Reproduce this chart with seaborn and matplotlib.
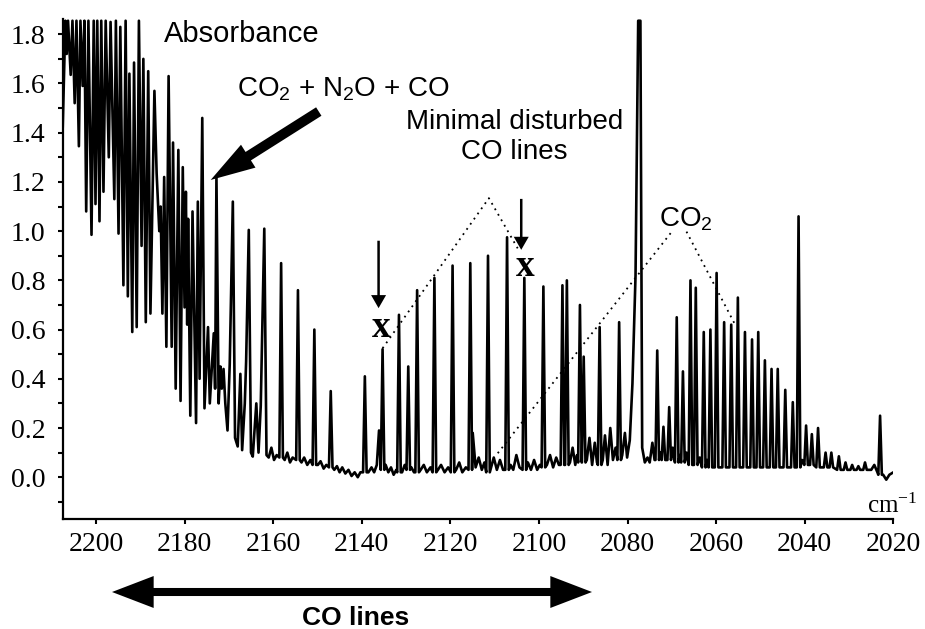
import pandas as pd
import seaborn as sns
import matplotlib.pyplot as plt
from matplotlib.ticker import MultipleLocator

band_cm = [2207.5, 2206.9, 2206.6, 2206.3, 2205.7, 2205.3, 2204.8, 2204.4, 2203.85, 2203.5,
           2203.0, 2202.6, 2202.2, 2201.7, 2201.0, 2200.5, 2200.1, 2199.7, 2199.2, 2198.8,
           2198.3, 2197.8, 2197.1, 2196.7, 2195.85, 2195.5, 2194.9, 2194.5, 2193.8, 2193.3,
           2192.8, 2192.45, 2191.8, 2191.4, 2190.8, 2190.3, 2189.7, 2189.3, 2188.75, 2188.2,
           2187.7, 2186.8, 2186.3, 2185.7, 2185.4, 2185.0, 2184.6, 2184.1, 2183.6, 2182.9,
           2182.6, 2182.0, 2181.4, 2180.9, 2180.4, 2180.0, 2179.7, 2179.4, 2179.2, 2178.7,
           2178.2, 2177.4, 2177.0, 2176.6, 2176.0, 2175.5, 2174.7, 2174.3, 2173.4, 2173.1,
           2172.8, 2172.3, 2171.9, 2171.6, 2171.2, 2170.8, 2170.3, 2169.8, 2169.1, 2168.6,
           2168.0, 2167.4, 2167.0, 2166.4, 2166.1, 2165.5, 2165.0, 2164.6, 2163.8, 2163.3,
           2162.8, 2162.0, 2161.5]
band_abs = [1.42, 1.855, 1.72, 1.855, 1.635, 1.855, 1.52, 1.855, 1.345, 1.855,
            1.59, 1.855, 1.08, 1.855, 0.985, 1.855, 1.11, 1.855, 1.04, 1.855,
            1.16, 1.855, 1.30, 1.85, 1.13, 1.855, 0.99, 1.83, 0.78, 1.855,
            0.735, 1.64, 0.59, 1.685, 0.61, 1.855, 0.94, 1.70, 0.63, 1.65,
            0.665, 1.57, 1.235, 1.00, 1.10, 0.665, 1.22, 0.53, 1.63, 0.53,
            1.36, 0.36, 1.33, 0.31, 1.26, 0.69, 1.16, 0.62, 1.05, 0.25,
            1.08, 0.22, 1.12, 0.40, 1.46, 0.28, 0.61, 0.30, 0.585, 0.36,
            1.22, 0.30, 0.45, 0.36, 0.44, 0.30, 0.19, 0.46, 1.12, 0.16,
            0.125, 0.42, 0.11, 0.30, 0.47, 1.005, 0.10, 0.084, 0.30, 0.10,
            0.29, 1.01, 0.09]

# baseline wiggles between the isolated lines
base_cm = [2161.0, 2160.4, 2159.8, 2159.2, 2157.4, 2156.8, 2156.2, 2155.6, 2153.6, 2153.0,
           2152.3, 2151.6, 2149.9, 2149.3, 2148.6, 2148.0, 2146.2, 2145.6, 2145.0, 2144.4,
           2143.7, 2143.0, 2142.3, 2141.6, 2140.9, 2140.3, 2138.5, 2137.8, 2137.2, 2136.6,
           2136.1, 2134.6, 2134.0, 2133.4, 2132.8, 2132.2, 2130.9, 2130.3, 2128.8, 2128.2,
           2126.7, 2126.0, 2125.3, 2124.5, 2122.8, 2122.1, 2121.3, 2120.5, 2118.7, 2118.0,
           2117.3, 2116.5, 2114.95, 2114.3, 2113.6, 2112.9, 2112.3, 2110.8, 2110.2, 2109.5,
           2108.8, 2108.1, 2106.4, 2105.8, 2105.1, 2104.4, 2102.5, 2101.8, 2101.1, 2100.4,
           2099.8, 2098.2, 2097.5, 2096.8, 2096.1, 2095.5, 2093.0, 2092.4, 2091.8, 2091.4,
           2089.2, 2088.6, 2088.0, 2087.4, 2086.9, 2085.6, 2085.1, 2084.5, 2083.9, 2083.3,
           2082.7, 2081.2, 2080.6, 2080.1, 2079.5, 2078.9, 2078.2, 2077.6, 2077.1, 2076.7,
           2076.1, 2075.5, 2075.0, 2074.4, 2073.9, 2072.6, 2069.8, 2068.2, 2066.7, 2063.7,
           2062.05, 2040.6, 2025.0, 2024.3, 2023.6, 2022.3, 2021.6, 2020.9, 2020.0]
base_abs = [0.08, 0.12, 0.07, 0.09, 0.07, 0.10, 0.06, 0.08, 0.06, 0.08,
            0.05, 0.07, 0.05, 0.065, 0.035, 0.05, 0.03, 0.045, 0.02, 0.04,
            0.015, 0.03, 0.005, 0.02, 0.0, 0.02, 0.02, 0.04, 0.02, 0.05,
            0.19, 0.05, 0.02, 0.04, 0.01, 0.03, 0.02, 0.05, 0.04, 0.02,
            0.03, 0.05, 0.02, 0.04, 0.03, 0.05, 0.02, 0.04, 0.03, 0.06,
            0.02, 0.04, 0.18, 0.04, 0.08, 0.03, 0.06, 0.04, 0.08, 0.03,
            0.07, 0.03, 0.05, 0.03, 0.09, 0.04, 0.06, 0.03, 0.07, 0.03,
            0.05, 0.05, 0.09, 0.04, 0.08, 0.05, 0.06, 0.12, 0.05, 0.09,
            0.07, 0.16, 0.05, 0.14, 0.06, 0.07, 0.17, 0.05, 0.20, 0.07,
            0.12, 0.09, 0.18, 0.08, 0.15, 0.38, 0.82, 1.855, 1.855, 0.12,
            0.06, 0.08, 0.06, 0.14, 0.07, 0.10, 0.12, 0.09, 0.10, 0.08,
            0.07, 0.07, 0.03, 0.05, 0.02, 0.01, -0.01, 0.01, 0.02]

# isolated narrow lines: centre, top, baseline under the line
line_cm = [2158.2, 2154.4, 2150.7, 2147.0, 2139.3, 2135.3, 2131.6, 2129.5, 2127.5, 2123.6,
           2119.5, 2115.5, 2111.5, 2107.2, 2103.3, 2099.0, 2094.7, 2093.7, 2090.75, 2089.9,
           2086.3, 2081.9, 2073.3, 2071.9, 2070.6, 2068.9, 2067.5, 2065.8, 2064.6, 2062.8,
           2061.3, 2059.9, 2058.2, 2056.6, 2055.1, 2053.5, 2051.9, 2050.5, 2049.0, 2047.5,
           2046.1, 2044.4, 2042.7, 2041.4, 2039.7, 2038.4, 2037.0, 2035.3, 2034.0, 2032.3,
           2030.8, 2029.3, 2027.9, 2026.4, 2023.0]
line_abs = [0.87, 0.76, 0.60, 0.35, 0.41, 0.52, 0.66, 0.45, 0.76, 0.81,
            0.86, 0.87, 0.90, 0.975, 0.81, 0.775, 0.78, 0.80, 0.70, 0.49,
            0.61, 0.63, 0.515, 0.205, 0.285, 0.65, 0.43, 0.80, 0.77, 0.59,
            0.60, 0.83, 0.63, 0.62, 0.73, 0.59, 0.56, 0.59, 0.475, 0.44,
            0.44, 0.355, 0.305, 1.06, 0.21, 0.175, 0.20, 0.10, 0.10, 0.085,
            0.06, 0.05, 0.045, 0.06, 0.25]
line_base = [0.08, 0.07, 0.05, 0.04, 0.02, 0.03, 0.02, 0.03, 0.02, 0.02,
             0.02, 0.03, 0.02, 0.03, 0.03, 0.04, 0.05, 0.05, 0.06, 0.06,
             0.05, 0.07, 0.07, 0.07, 0.07, 0.06, 0.06, 0.05, 0.05, 0.04,
             0.04, 0.04, 0.04, 0.04, 0.04, 0.04, 0.04, 0.04, 0.04, 0.04,
             0.04, 0.04, 0.04, 0.04, 0.05, 0.05, 0.04, 0.04, 0.04, 0.03,
             0.03, 0.03, 0.03, 0.03, 0.01]

x_ticks = [2200, 2180, 2160, 2140, 2120, 2100, 2080, 2060, 2040, 2020]
y_ticks = [0.0, 0.2, 0.4, 0.6, 0.8, 1.0, 1.2, 1.4, 1.6, 1.8]

foot = 0.4  # drawn half width of a narrow line (cm-1)

rows = []
for c, a in zip(band_cm + base_cm, band_abs + base_abs):
    if min(abs(c - lc) for lc in line_cm) > 1.1 * foot:
        rows.append((c, a))
for c, a, b in zip(line_cm, line_abs, line_base):
    rows += [(c + foot, b), (c, a), (c - foot, b)]
df = pd.DataFrame(rows, columns=['wavenumber', 'absorbance'])

sns.set_theme(style='ticks')
plt.rcParams['font.family'] = ['Liberation Serif', 'DejaVu Serif']
plt.rcParams['mathtext.default'] = 'regular'
plt.rcParams['text.color'] = 'black'
sans = ['Liberation Sans', 'DejaVu Sans']

fig = plt.figure(figsize=(9.25, 6.29), dpi=100)
ax = fig.add_axes([0.0678, 0.1744, 0.898, 0.7946])
sns.lineplot(data=df, x='wavenumber', y='absorbance', estimator=None,
             color='black', lw=1.9, ax=ax)
ax.set_xlim(2207.5, 2020)
ax.set_ylim(-0.171, 1.86)
ax.set_xlabel('')
ax.set_ylabel('')
ax.set_xticks(x_ticks)
ax.set_yticks(y_ticks)
ax.set_yticklabels(['%.1f' % v for v in y_ticks])
ax.yaxis.set_minor_locator(MultipleLocator(0.1))
ax.tick_params(axis='both', which='both', direction='out', length=3.5, width=1.5,
               colors='black', labelsize=20)
ax.tick_params(axis='x', pad=6)
ax.tick_params(axis='y', pad=9)
sns.despine(ax=ax)
for s in ['left', 'bottom']:
    ax.spines[s].set_linewidth(1.6)
    ax.spines[s].set_color('black')

# labels
ax.text(2184.76, 1.770, 'Absorbance', family=sans, fontsize=21, va='baseline')
ax.text(2168.15, 1.547, 'CO$_2$ + N$_2$O + CO', family=sans, fontsize=20, va='baseline')
ax.text(2105.5, 1.292, 'Minimal disturbed\nCO lines', family=sans, fontsize=20,
        ha='center', va='baseline', multialignment='center')
ax.text(2072.8, 1.018, 'CO$_2$', family=sans, fontsize=20, va='baseline')
ax.text(2025.9, -0.146, 'cm$^{-1}$', fontsize=18, va='baseline')
ax.text(2135.7, 0.571, 'x', fontsize=27, fontweight='bold', ha='center', va='baseline')
ax.text(2103.0, 0.818, 'x', fontsize=27, fontweight='bold', ha='center', va='baseline')

# dotted guides
dot = dict(color='black', lw=1.3, ls=(0, (1, 2.5)))
ax.plot([2135.3, 2111.3, 2104.8], [0.524, 1.134, 0.93], **dot)
ax.plot([2109.3, 2069.7], [0.0975, 1.005], **dot)
ax.plot([2066.7, 2055.6], [0.998, 0.616], **dot)

# arrows
big = dict(arrowstyle='simple,head_length=3.2,head_width=1.95,tail_width=0.72',
           mutation_scale=10, fc='black', ec='black', lw=0, shrinkA=0, shrinkB=0)
ax.annotate('', xy=(2174.1, 1.208), xytext=(2149.7, 1.486), arrowprops=big)
small = dict(arrowstyle='simple,head_length=0.94,head_width=1.08,tail_width=0.18',
             mutation_scale=10, fc='black', ec='black', lw=0, shrinkA=0, shrinkB=0)
ax.annotate('', xy=(2136.2, 0.687), xytext=(2136.2, 0.961), arrowprops=small)
ax.annotate('', xy=(2104.0, 0.924), xytext=(2104.0, 1.131), arrowprops=small)

span = dict(arrowstyle='simple,head_length=3.0,head_width=2.3,tail_width=0.58',
            mutation_scale=10, fc='black', ec='black', lw=0, shrinkA=0, shrinkB=0)
ax.annotate('', xy=(112, 37), xytext=(352, 37), xycoords='figure pixels',
            textcoords='figure pixels', arrowprops=span, annotation_clip=False)
ax.annotate('', xy=(592, 37), xytext=(352, 37), xycoords='figure pixels',
            textcoords='figure pixels', arrowprops=span, annotation_clip=False)
fig.text(356 / 925, 4 / 629, 'CO lines', family=sans, fontsize=19, fontweight='bold',
         ha='center', va='baseline')

plt.savefig('out.png', dpi=100)
